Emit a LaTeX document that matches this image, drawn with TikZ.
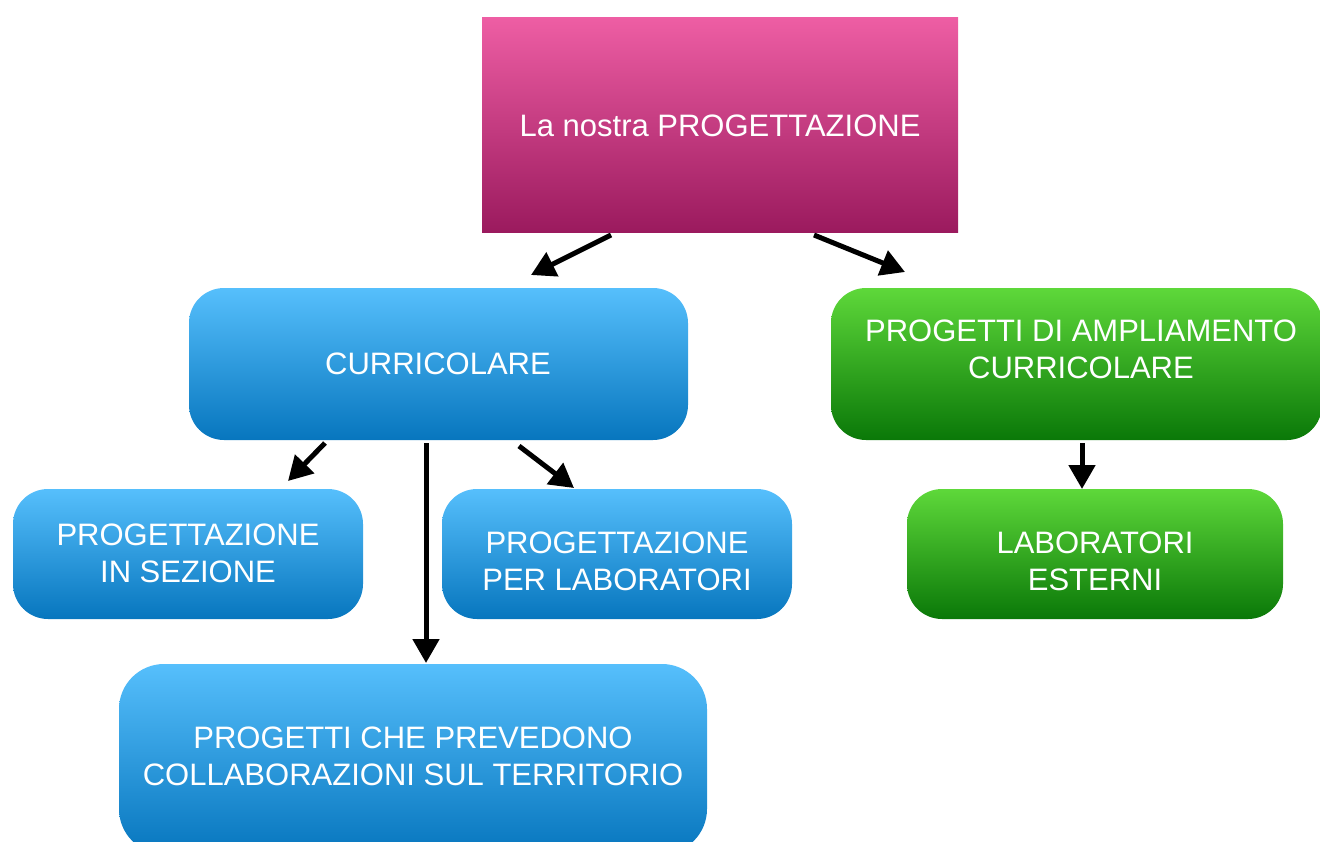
\documentclass[tikz,border=0pt]{standalone}
\usepackage{fontspec}
\setmainfont{Liberation Sans}
\usetikzlibrary{arrows.meta,calc}
\definecolor{pinkT}{HTML}{EE5EA4}
\definecolor{pinkB}{HTML}{9B1A5E}
\definecolor{blueT}{HTML}{56BFFC}
\definecolor{blueB}{HTML}{0776BE}
\definecolor{greenT}{HTML}{5ED83A}
\definecolor{greenB}{HTML}{0A7808}
\tikzset{
  box/.style={draw=none, inner sep=0pt, outer sep=0pt, anchor=north west, shading=axis, shading angle=0},
  bluebox/.style={box, rounded corners=35pt, top color=blueT, bottom color=blueB},
  greenbox/.style={box, rounded corners=35pt, top color=greenT, bottom color=greenB},
  pinkbox/.style={box, top color=pinkT, bottom color=pinkB},
  lbl/.style={text=white, align=center, font=\fontsize{31}{37}\selectfont, inner sep=0pt},
  arr/.style={line width=5pt, -{Triangle[length=24pt,width=26pt]}}
}
\begin{document}
\begin{tikzpicture}[x=1pt,y=-1pt]
\useasboundingbox (0,0) rectangle (1320,841);
\clip (0,0) rectangle (1320,841);
% boxes
\node[pinkbox, minimum width=476pt, minimum height=215pt] (top) at (482,17) {};
\node[bluebox, minimum width=499pt, minimum height=152pt] (cur) at (189,288) {};
\node[greenbox, minimum width=491pt, minimum height=152pt] (amp) at (831,288) {};
\node[bluebox, minimum width=350pt, minimum height=130pt] (sez) at (13,489) {};
\node[bluebox, minimum width=350pt, minimum height=130pt] (lab) at (442,489) {};
\node[greenbox, minimum width=376pt, minimum height=130pt] (est) at (907,489) {};
\node[bluebox, rounded corners=45pt, minimum width=588pt, minimum height=190pt] (col) at (119,664) {};
% labels
\node[lbl] (ttop) at (720,126) {La nostra PROGETTAZIONE};
\node[lbl] (tcur) at (438,364) {CURRICOLARE};
\node[lbl] (tamp) at (1081,349) {PROGETTI DI AMPLIAMENTO\\CURRICOLARE};
\node[lbl] (tsez) at (188,553) {PROGETTAZIONE\\IN SEZIONE};
\node[lbl] (tlab) at (617,561) {PROGETTAZIONE\\PER LABORATORI};
\node[lbl] (test) at (1095,561) {LABORATORI\\ESTERNI};
\node[lbl] (tcol) at (413,756) {PROGETTI CHE PREVEDONO\\COLLABORAZIONI SUL TERRITORIO};
% arrows
\draw[arr] ($(top.south west)+(129,3)$) -- ($(cur.north west)+(342,-13)$);
\draw[arr] ($(top.south west)+(332,3)$) -- ($(amp.north west)+(74,-16)$);
\draw[arr] ($(cur.south west)+(136,3)$) -- ($(sez.north west)+(275,-8)$);
\draw[arr] ($(cur.south west)+(237,3)$) -- ($(col.north west)+(307,-1)$);
\draw[arr] ($(cur.south west)+(330,6)$) -- ($(lab.north west)+(132,-1)$);
\draw[arr] ($(amp.south west)+(251,3)$) -- ($(est.north west)+(175,0)$);
\end{tikzpicture}
\end{document}
